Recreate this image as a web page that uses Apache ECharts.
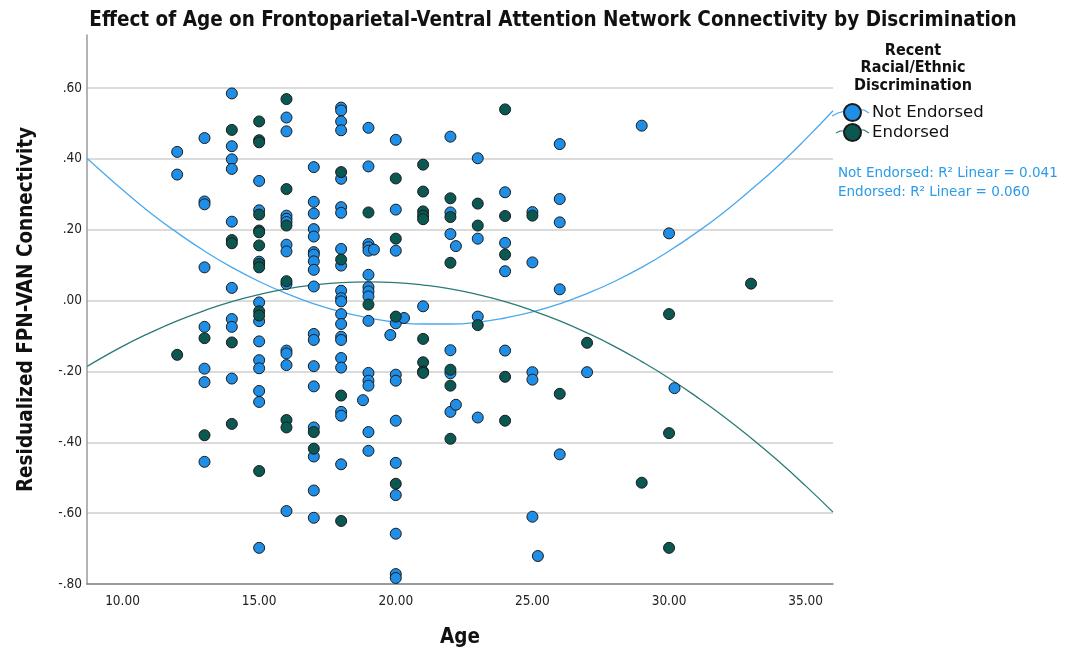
<!DOCTYPE html>
<html>
<head>
<meta charset="utf-8">
<script src="https://cdn.jsdelivr.net/npm/echarts@6/dist/echarts.min.js"></script>
<style>
html,body{margin:0;padding:0;background:#fff;}
#chart{width:1072px;height:651px;}
</style>
</head>
<body>
<div id="chart"></div>
<script>
// ---- Data ----
const xTickLabels = [10, 15, 20, 25, 30, 35];
const groupNames = ['Not Endorsed', 'Endorsed'];

const notEndorsedAge = [
  12,12,
  13,13,13,13,13,13,13,13,
  14,14,14,14,14,14,14,14,14,
  15,15,15,15,15,15,15,15,15,15,15,
  16,16,16,16,16,16,16,16,16,16,16,16,
  17,17,17,17,17,17,17,17,17,17,17,17,17,17,17,17,17,17,
  18,18,18,18,18,18,18,18,18,18,18,18,18,18,18,18,18,18,18,18,18,
  19,19,19,19,19,19,19,19,19,19,19,19,19,19,19,
  19.2,18.8,
  20,20,20,20,20,20,20,20,20,20,20,20,
  20.3,19.8,21,
  22,22,22,22,22,22,22.2,22.2,
  23,23,23,23,
  24,24,24,24,
  25,25,25,25,25,25.2,
  26,26,26,26,26,
  27,29,30,30.2
];
const notEndorsedVal = [
  0.42,0.356,
  0.459,0.28,0.272,0.094,-0.074,-0.192,-0.23,-0.455,
  0.585,0.436,0.399,0.372,0.223,0.036,-0.052,-0.074,-0.22,
  0.338,0.255,0.11,-0.005,-0.058,-0.115,-0.168,-0.191,-0.255,-0.286,-0.698,
  0.517,0.478,0.24,0.231,0.222,0.158,0.139,0.047,-0.141,-0.149,-0.182,-0.594,
  0.377,0.279,0.246,0.202,0.181,0.137,0.13,0.111,0.087,0.04,-0.094,-0.111,-0.185,-0.242,-0.358,-0.44,-0.536,-0.613,
  0.545,0.537,0.506,0.481,0.344,0.264,0.248,0.146,0.099,0.028,0.007,-0.002,-0.038,-0.066,-0.102,-0.111,-0.162,-0.189,-0.314,-0.325,-0.462,
  0.488,0.379,0.16,0.151,0.141,0.073,0.038,0.026,0.012,-0.057,-0.204,-0.226,-0.24,-0.371,-0.424,
  0.144,-0.281,
  0.454,0.257,0.141,-0.064,-0.209,-0.226,-0.339,-0.458,-0.549,-0.658,-0.772,-0.783,
  -0.049,-0.097,-0.016,
  0.463,0.249,0.188,-0.14,-0.205,-0.314,0.154,-0.294,
  0.402,0.175,-0.045,-0.33,
  0.306,0.163,0.083,-0.141,
  0.25,0.108,-0.202,-0.223,-0.61,-0.721,
  0.442,0.287,0.221,0.032,-0.434,
  -0.202,0.494,0.19,-0.247
];

const endorsedAge = [
  12,
  13,13,
  14,14,14,14,14,
  15,15,15,15,15,15,15,15,15,15,15,15,
  16,16,16,16,16,16,
  17,17,
  18,18,18,18,
  19,19,
  20,20,20,20,
  21,21,21,21,21,21,21,21,21,
  22,22,22,22,22,22,
  23,23,23,
  24,24,24,24,24,
  25,26,27,29,
  30,30,30,
  33
];
const endorsedVal = [
  -0.153,
  -0.106,-0.38,
  0.482,0.171,0.162,-0.118,-0.348,
  0.506,0.453,0.447,0.243,0.198,0.193,0.156,0.104,0.094,-0.03,-0.042,-0.481,
  0.569,0.315,0.212,0.055,-0.337,-0.358,
  -0.371,-0.418,
  0.363,0.116,-0.268,-0.622,
  0.249,-0.011,
  0.345,0.175,-0.045,-0.517,
  0.384,0.308,0.252,0.24,0.23,-0.108,-0.174,-0.2,-0.204,
  0.289,0.236,0.107,-0.195,-0.24,-0.39,
  0.274,0.212,-0.069,
  0.54,0.239,0.13,-0.215,-0.339,
  0.24,-0.263,-0.119,-0.514,
  -0.038,-0.374,-0.698,
  0.048
];

// Fit curves (quadratic fit lines), one reading per year
const fitAge = [8.7, 9, 10, 11, 12, 13, 14, 15, 16, 17, 18, 19, 20, 21, 22, 23, 24, 25, 26, 27, 28, 29, 30, 31, 32, 33, 34, 35, 36];
const notEndorsedFit = [0.401, 0.381, 0.313, 0.249, 0.192, 0.140, 0.094, 0.054, 0.020, -0.009, -0.032, -0.049, -0.061, -0.066, -0.066, -0.061, -0.049, -0.032, -0.009, 0.020, 0.054, 0.094, 0.140, 0.192, 0.249, 0.313, 0.381, 0.456, 0.536];
const endorsedFit = [-0.186, -0.172, -0.129, -0.091, -0.057, -0.028, -0.003, 0.017, 0.033, 0.044, 0.051, 0.053, 0.051, 0.044, 0.033, 0.017, -0.003, -0.028, -0.057, -0.091, -0.129, -0.172, -0.219, -0.271, -0.327, -0.388, -0.453, -0.523, -0.597];

const r2Lines = ['Not Endorsed: R\u00B2 Linear = 0.041', 'Endorsed: R\u00B2 Linear = 0.060'];

// ---- Build ----
const zip = (a, b) => a.map((v, i) => [v, b[i]]);
const BLUE = '#1f8ee6';
const TEAL = '#0b5853';
const BLUE_LINE = '#4aa9ee';
const TEAL_LINE = '#2b7b75';
const FONT_C = '"DejaVu Sans Condensed", "Liberation Sans Narrow", "Liberation Sans", sans-serif';
const FONT = '"DejaVu Sans", "Liberation Sans", sans-serif';

const chart = echarts.init(document.getElementById('chart'), null, {renderer: 'canvas'});

function yFmt(v) {
  const s = Math.abs(v).toFixed(2).replace(/^0/, '');
  return (v < -1e-9 ? '-' : '') + s;
}

chart.setOption({
  animation: false,
  backgroundColor: '#ffffff',
  title: [
    {
      text: 'Effect of Age on Frontoparietal-Ventral Attention Network Connectivity by Discrimination',
      left: 548, top: 5, textAlign: 'center',
      textStyle: {fontFamily: FONT_C, fontSize: 20.5, fontWeight: 'bold', color: '#111'}
    },
    {
      text: 'Recent\nRacial/Ethnic\nDiscrimination',
      left: 908, top: 37, textAlign: 'center',
      textStyle: {fontFamily: FONT_C, fontSize: 16, fontWeight: 'bold', color: '#111', lineHeight: 17.5}
    },
    {
      text: r2Lines.join('\n'),
      left: 833, top: 159,
      textStyle: {fontFamily: FONT, fontSize: 13.5, fontWeight: 'normal', color: '#2a9be8', lineHeight: 19}
    }
  ],
  legend: {
    data: groupNames,
    orient: 'vertical',
    left: 838, top: 98,
    itemWidth: 17, itemHeight: 17, itemGap: 1,
    icon: 'circle',
    textStyle: {fontFamily: FONT, fontSize: 16.5, color: '#111', padding: [0,0,0,6]}
  },
  graphic: [
    {type: 'polyline', silent: true, z: 0, shape: {points: [[832,116],[838,113],[845,111]]}, style: {stroke: BLUE_LINE, lineWidth: 1.2, fill: null}},
    {type: 'polyline', silent: true, z: 0, shape: {points: [[858,110],[864,110],[869,113]]}, style: {stroke: BLUE_LINE, lineWidth: 1.2, fill: null}},
    {type: 'polyline', silent: true, z: 0, shape: {points: [[836,133],[840,131],[845,131]]}, style: {stroke: TEAL_LINE, lineWidth: 1.2, fill: null}},
    {type: 'polyline', silent: true, z: 0, shape: {points: [[858,130],[864,130],[869,133]]}, style: {stroke: TEAL_LINE, lineWidth: 1.2, fill: null}}
  ],
  grid: {left: 87, right: 239, top: 35, bottom: 67, containLabel: false, outerBoundsMode: 'none'},
  xAxis: {
    type: 'value',
    min: 8.7, max: 36.0,
    name: 'Age', nameLocation: 'middle', nameGap: 43,
    nameTextStyle: {fontFamily: FONT_C, fontSize: 20.5, fontWeight: 'bold', color: '#111'},
    axisLine: {show: true, onZero: false, lineStyle: {color: '#7a7a7a', width: 1.5}},
    axisTick: {show: false},
    splitLine: {show: false},
    axisLabel: {
      customValues: xTickLabels,
      formatter: v => v.toFixed(2),
      fontFamily: FONT_C, fontSize: 13.5, color: '#222', margin: 10
    }
  },
  yAxis: {
    type: 'value',
    min: -0.8, max: 0.75, interval: 0.2,
    name: 'Residualized FPN-VAN Connectivity', nameLocation: 'middle', nameGap: 50, nameRotate: 90,
    nameTextStyle: {fontFamily: FONT_C, fontSize: 20.5, fontWeight: 'bold', color: '#111'},
    axisLine: {show: true, onZero: false, lineStyle: {color: '#9a9a9a', width: 1.5}},
    axisTick: {show: false},
    splitLine: {show: true, showMaxLine: false, showMinLine: false, lineStyle: {color: '#cfcfcf', width: 1.5}},
    axisLabel: {
      showMaxLabel: false,
      formatter: yFmt,
      fontFamily: FONT_C, fontSize: 13.5, color: '#222', margin: 5
    }
  },
  series: [
    {
      name: 'Not Endorsed fit', type: 'line', data: zip(fitAge, notEndorsedFit),
      smooth: true, showSymbol: false, silent: true, z: 1,
      lineStyle: {color: BLUE_LINE, width: 1.3}
    },
    {
      name: 'Endorsed fit', type: 'line', data: zip(fitAge, endorsedFit),
      smooth: true, showSymbol: false, silent: true, z: 1,
      lineStyle: {color: TEAL_LINE, width: 1.3}
    },
    {
      name: groupNames[0], type: 'scatter', data: zip(notEndorsedAge, notEndorsedVal),
      symbolSize: 11, z: 3,
      itemStyle: {color: BLUE, borderColor: '#1b1b1b', borderWidth: 1, opacity: 1}
    },
    {
      name: groupNames[1], type: 'scatter', data: zip(endorsedAge, endorsedVal),
      symbolSize: 11, z: 3,
      itemStyle: {color: TEAL, borderColor: '#1b1b1b', borderWidth: 1, opacity: 1}
    }
  ]
});
</script>
</body>
</html>
